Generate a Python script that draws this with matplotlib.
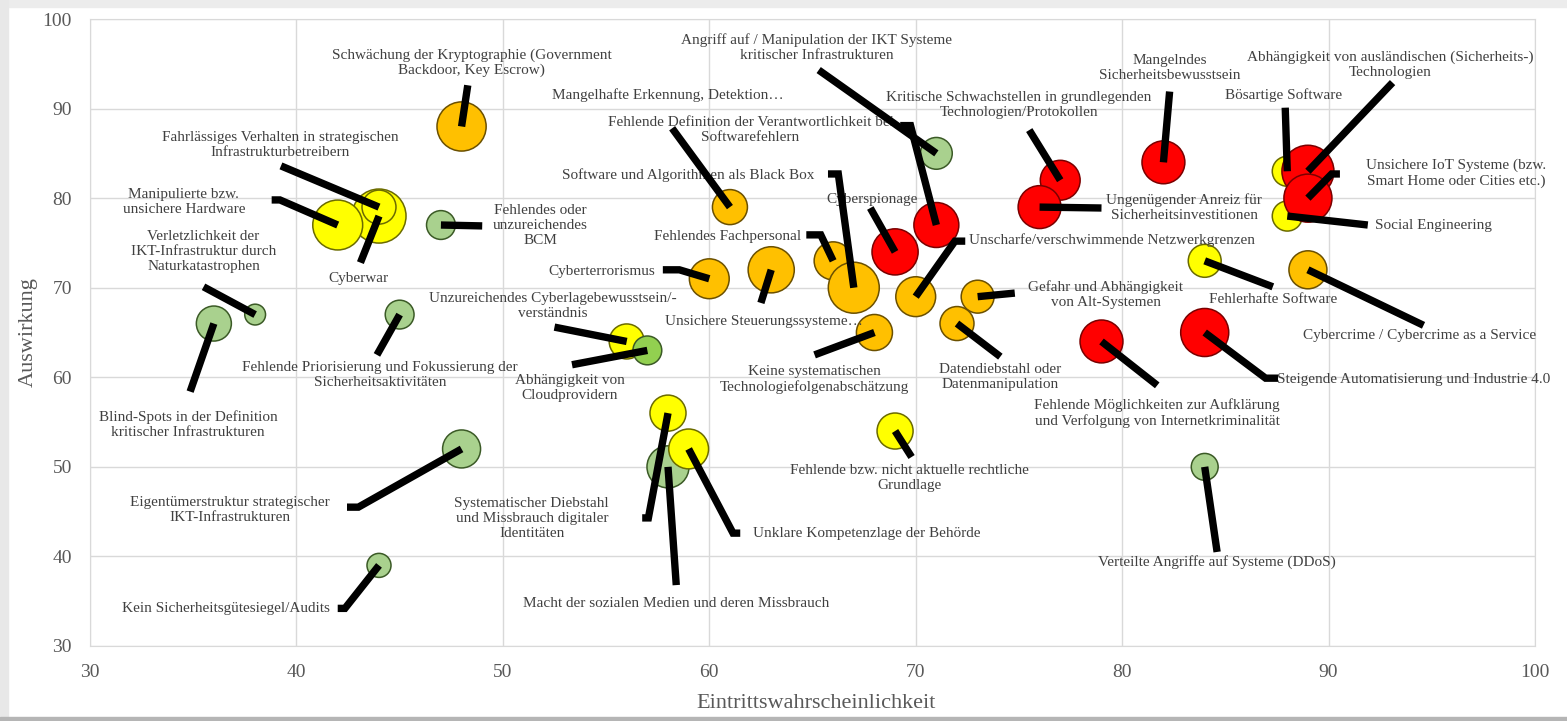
import matplotlib
matplotlib.use("Agg")
import matplotlib.pyplot as plt
from matplotlib.patches import Rectangle

plt.rcParams["font.family"] = ["Liberation Serif", "DejaVu Serif"]

# Risiken (in Zeichenreihenfolge: spätere liegen oben)
risiken = [
    "Verletzlichkeit der\nIKT-Infrastruktur durch\nNaturkatastrophen",
    "Blind-Spots in der Definition\nkritischer Infrastrukturen",
    "Fehlendes oder\nunzureichendes\nBCM",
    "Fehlende Priorisierung und Fokussierung der\nSicherheitsaktivitäten",
    "Eigentümerstruktur strategischer\nIKT-Infrastrukturen",
    "Kein Sicherheitsgütesiegel/Audits",
    "Macht der sozialen Medien und deren Missbrauch",
    "Angriff auf / Manipulation der IKT Systeme\nkritischer Infrastrukturen",
    "Verteilte Angriffe auf Systeme (DDoS)",
    "Cyberwar",
    "Manipulierte bzw.\nunsichere Hardware",
    "Fahrlässiges Verhalten in strategischen\nInfrastrukturbetreibern",
    "Unzureichendes Cyberlagebewusstsein/-\nverständnis",
    "Systematischer Diebstahl\nund Missbrauch digitaler\nIdentitäten",
    "Unklare Kompetenzlage der Behörde",
    "Fehlende bzw. nicht aktuelle rechtliche\nGrundlage",
    "Bösartige Software",
    "Social Engineering",
    "Fehlerhafte Software",
    "Schwächung der Kryptographie (Government\nBackdoor, Key Escrow)",
    "Mangelhafte Erkennung, Detektion…",
    "Cyberterrorismus",
    "Unsichere Steuerungssysteme…",
    "Fehlendes Fachpersonal",
    "Software und Algorithmen als Black Box",
    "Unscharfe/verschwimmende Netzwerkgrenzen",
    "Gefahr und Abhängigkeit\nvon Alt-Systemen",
    "Datendiebstahl oder\nDatenmanipulation",
    "Keine systematischen\nTechnologiefolgenabschätzung",
    "Cybercrime / Cybercrime as a Service",
    "Fehlende Definition der Verantwortlichkeit bei\nSoftwarefehlern",
    "Cyberspionage",
    "Kritische Schwachstellen in grundlegenden\nTechnologien/Protokollen",
    "Ungenügender Anreiz für\nSicherheitsinvestitionen",
    "Mangelndes\nSicherheitsbewusstsein",
    "Abhängigkeit von ausländischen (Sicherheits-)\nTechnologien",
    "Unsichere IoT Systeme (bzw.\nSmart Home oder Cities etc.)",
    "Fehlende Möglichkeiten zur Aufklärung\nund Verfolgung von Internetkriminalität",
    "Steigende Automatisierung und Industrie 4.0",
    "Abhängigkeit von\nCloudprovidern",
]

wahrscheinlichkeit = [38, 36, 47, 45, 48, 44, 58, 71, 84,
                      44, 42, 44, 56, 58, 59, 69, 88, 88, 84,
                      48, 61, 60, 63, 66, 67, 70, 73, 72, 68, 89,
                      71, 69, 77, 76, 82, 89, 89, 79, 84,
                      57]
auswirkung = [67, 66, 77, 67, 52, 39, 50, 85, 50,
              78, 77, 79, 64, 56, 52, 54, 83, 78, 73,
              88, 79, 71, 72, 73, 70, 69, 69, 66, 65, 72,
              77, 74, 82, 79, 84, 83, 80, 64, 65,
              63]
groesse = [12, 34, 23, 23, 40, 16, 49, 28, 20,
           81, 69, 32, 34, 36, 44, 36, 25, 25, 30,
           67, 34, 44, 59, 40, 72, 44, 30, 32, 36, 40,
           56, 59, 44, 51, 51, 75, 64, 51, 64,
           23]
stufe = ["gruen"] * 9 + ["gelb"] * 10 + ["orange"] * 11 + ["rot"] * 9 + ["hellgruen"]

# Layout der Beschriftungen (Datenkoordinaten)
label_x = [35.5, 34.75, 51.8, 44.05, 36.8, 36.6, 58.4, 65.2, 84.6,
           43.0, 34.55, 39.2, 52.4, 51.4, 62.1, 69.7, 87.8, 95.1, 87.3,
           48.5, 58.0, 54.8, 62.65, 60.9, 59.0, 79.5, 79.2, 74.1, 65.1, 94.4,
           62.0, 67.9, 75.0, 83.0, 82.3, 93.0, 96.2, 81.7, 87.5,
           53.25]
label_y = [74.0, 54.7, 76.9, 60.3, 45.2, 34.2, 34.7, 96.8, 39.4,
           71.0, 79.6, 85.9, 68.0, 44.2, 42.6, 48.75, 91.5, 76.9, 68.7,
           95.1, 91.5, 71.8, 66.2, 75.7, 82.6, 75.3, 69.2, 60.0, 59.8, 64.7,
           87.6, 79.8, 90.4, 78.9, 94.5, 94.9, 82.8, 56.0, 59.7,
           58.8]
links = {14, 38}
# Startpunkt der Führungslinie und kurzer waagrechter Ansatz
linie_x = [35.5, 34.85, 49.0, 43.9, 42.45, 42.0, 58.4, 65.3, 84.6,
           43.1, 38.8, 39.25, 52.5, 56.75, 61.5, 69.8, 87.9, 91.9, 87.3,
           48.3, 58.2, 57.75, 62.5, 64.7, 65.75, 72.4, 74.8, 74.1, 65.1, 94.6,
           69.25, 67.8, 75.5, 79.0, 82.3, 93.1, 90.55, 81.7, 87.55,
           53.35]
linie_y = [70.1, 58.4, 76.9, 62.5, 45.5, 34.2, 36.8, 94.3, 40.5,
           72.8, 79.8, 83.6, 65.6, 44.3, 42.6, 51.1, 90.1, 77.0, 70.1,
           92.6, 87.8, 72.0, 68.3, 75.9, 82.7, 75.2, 69.4, 62.3, 62.5, 65.8,
           88.1, 78.9, 87.6, 78.9, 91.9, 92.9, 82.7, 59.1, 59.9,
           61.4]
ansatz = [0, 0, 0, 0, 0.55, 0.35, 0, 0, 0,
          0, 0.4, 0, 0, 0.3, -0.35, 0, 0, 0, 0,
          0, 0, 0.8, 0, 0.7, 0.5, -0.5, 0, 0, 0, 0,
          0.5, 0, 0, 0, 0, 0, -0.4, 0, -0.6,
          0]

fuellung = {"rot": "#FF0000", "orange": "#FFC000", "gelb": "#FFFF00",
            "gruen": "#A9D18E", "hellgruen": "#92D050"}
rand = {"rot": "#7A0000", "orange": "#6B5000", "gelb": "#6B6B00",
        "gruen": "#3B5A26", "hellgruen": "#3B5A26"}

fig = plt.figure(figsize=(15.67, 7.21), dpi=100)
fig.patch.set_facecolor("white")
# Rahmen/Schatten des Diagrammbereichs
fig.add_artist(Rectangle((0, 1 - 7 / 721), 1, 7 / 721, transform=fig.transFigure,
                         color="#ececec", zorder=0))
fig.add_artist(Rectangle((0, 0), 8 / 1567, 1, transform=fig.transFigure,
                         color="#e8e8e8", zorder=0))
fig.add_artist(Rectangle((0, 0), 1, 4 / 721, transform=fig.transFigure,
                         color="#b5b5b5", zorder=0))

ax = fig.add_axes([90 / 1567, 1 - 646 / 721, 1445 / 1567, 627 / 721])
ax.set_xlim(30, 100)
ax.set_ylim(30, 100)
ax.set_xticks(range(30, 101, 10))
ax.set_yticks(range(30, 101, 10))
ax.grid(True, color="#d9d9d9", linewidth=1)
ax.set_axisbelow(True)
for sp in ax.spines.values():
    sp.set_color("#d9d9d9")
ax.tick_params(length=0, labelsize=14, colors="#595959", pad=13)

ax.scatter(wahrscheinlichkeit, auswirkung, s=[g * 18.7 for g in groesse],
           c=[fuellung[s] for s in stufe], edgecolors=[rand[s] for s in stufe],
           linewidths=1.1, zorder=3)

for i, text in enumerate(risiken):
    ax.text(label_x[i], label_y[i], text, ha="left" if i in links else "center",
            va="center", fontsize=11, color="#404040", zorder=4)
    sx, sy = linie_x[i], linie_y[i]
    ax.plot([sx, sx + ansatz[i], wahrscheinlichkeit[i]], [sy, sy, auswirkung[i]],
            color="black", lw=5.3, solid_capstyle="butt", solid_joinstyle="miter",
            zorder=5)

fig.text(816 / 1567, 1 - 703 / 721, "Eintrittswahrscheinlichkeit", ha="center",
         va="center", fontsize=16, color="#595959")
fig.text(28 / 1567, 1 - 332 / 721, "Auswirkung", ha="center", va="center",
         rotation=90, fontsize=16, color="#595959")

fig.savefig("out.png", dpi=100)
